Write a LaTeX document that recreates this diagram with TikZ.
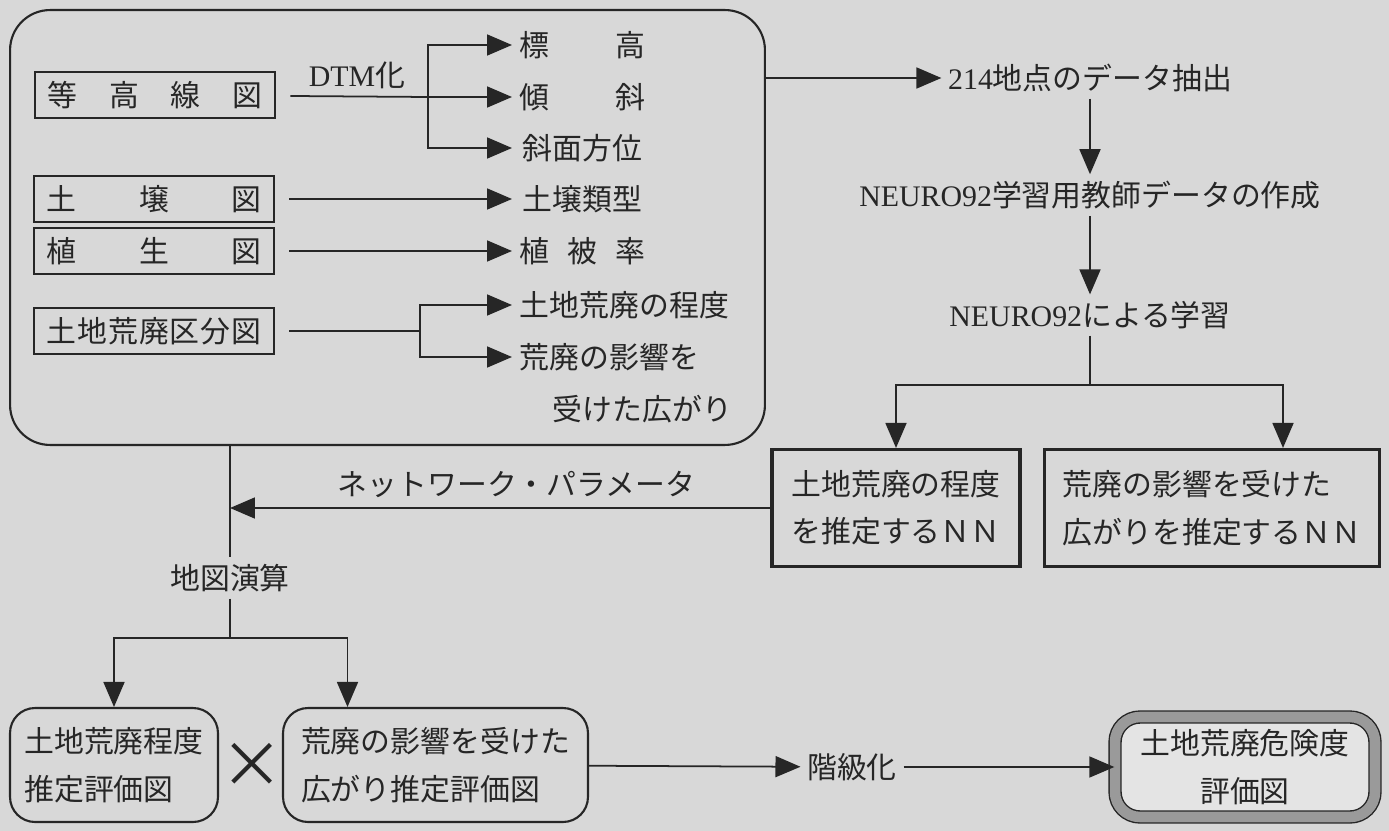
\documentclass[tikz,border=0pt]{standalone}
\usepackage{fontspec}
\setmainfont{Noto Sans CJK JP}
\newfontfamily\lat{Liberation Serif}
\usetikzlibrary{arrows.meta,positioning,calc}
\definecolor{paperGray}{HTML}{D8D8D8}
\definecolor{inkGray}{HTML}{262626}
\definecolor{bandGray}{HTML}{9A9A9A}
\definecolor{innerGray}{HTML}{E4E4E4}

\begin{document}
\begin{tikzpicture}[
      x=0.02cm, y=-0.02cm,
      color=inkGray, line width=1pt,
      font=\fontsize{17}{27}\selectfont,
      mapbox/.style={rectangle, draw, line width=1.6pt, inner xsep=0.25cm,
                     minimum height=0.92cm},
      item/.style={anchor=west, inner sep=4pt},
      nnbox/.style={rectangle, draw, line width=1.8pt, align=left, minimum height=2.34cm},
      evalbox/.style={rectangle, rounded corners=0.5cm, draw, line width=1.2pt,
                      align=left, minimum height=2.28cm},
      finalbox/.style={rectangle, rounded corners=0.5cm, draw, line width=0.8pt,
                       double=bandGray, double distance=6pt, fill=innerGray,
                       align=center, minimum width=5.2cm, minimum height=2.0cm},
      >={Triangle[length=0.5cm,width=0.42cm]}
    ]
    \fill[paperGray] (0,0) rectangle (1389,831);
    \useasboundingbox (0,0) rectangle (1389,831);

    \node[draw, rounded corners=0.8cm, line width=1.2pt, minimum width=15.1cm,
          minimum height=8.7cm] (mapsbox) at (387.5,227.5) {};

    \node[mapbox] (contour) at (155,95) {\makebox[4.3cm]{等\hfill 高\hfill 線\hfill 図}};
    \node[mapbox] (soil) at (154,199) {\makebox[4.3cm]{土\hfill 壌\hfill 図}};
    \node[mapbox] (veg) at (154,251) {\makebox[4.3cm]{植\hfill 生\hfill 図}};
    \node[mapbox] (landdeg) at (154,331) {\makebox[4.3cm]{土\hfill 地\hfill 荒\hfill 廃\hfill 区\hfill 分\hfill 図}};

    \node (dtmlabel) at (357,75) {{\lat DTM}化};
    \node[item] (elev) at (512,45) {\makebox[2.5cm]{標\hfill 高}};
    \node[item] (slope) at (512,97) {\makebox[2.5cm]{傾\hfill 斜}};
    \node[item] (aspect) at (512,148) {\makebox[2.5cm]{斜面方位}};
    \node[item] (soiltype) at (512,199) {\makebox[2.5cm]{土壌類型}};
    \node[item] (vegcov) at (512,251) {\makebox[2.5cm]{植\hfill 被\hfill 率}};
    \node[item] (degree) at (512,305) {土地荒廃の程度};
    \node[item, anchor=north west, align=left, font=\fontsize{17}{30}\selectfont]
         (spread) at (512,335) {荒廃の影響を\\\hspace*{1.1em}受けた広がり};

    \coordinate (dtm) at (428,97);
    \coordinate (split) at (420,331);
    \draw[shorten <=0.28cm] (contour) -- (dtm);
    \draw[->] (dtm) |- (elev);
    \draw[->] (dtm) -- (slope);
    \draw[->] (dtm) |- (aspect);
    \draw[->, shorten <=0.28cm] (soil) -- (soiltype);
    \draw[->, shorten <=0.28cm] (veg) -- (vegcov);
    \draw[shorten <=0.28cm] (landdeg) -- (split);
    \draw[->] (split) |- (degree);
    \draw[->] (split) |- ($(spread.north west)+(0,22)$);

    \node (extract) at (1090,78) {{\lat 214}地点のデータ抽出};
    \node (teach) at (1090,195) {{\lat NEURO92}学習用教師データの作成};
    \node (learn) at (1090,315) {{\lat NEURO92}による学習};
    \coordinate (fork) at (1090,385);

    \node[nnbox, minimum width=4.96cm] (nn1) at (896,508) {土地荒廃の程度\\を推定するＮＮ};
    \node[nnbox, minimum width=6.7cm] (nn2) at (1212,508) {荒廃の影響を受けた\\広がりを推定するＮＮ};

    \draw[->] (mapsbox.east |- extract) -- (extract);
    \draw[->] (extract) -- (teach);
    \draw[->] (teach) -- (learn);
    \draw (learn) -- (fork);
    \draw[->] (fork) -| (nn1);
    \draw[->] (fork) -| ($(nn2.north)+(71,0)$);

    \coordinate (merge) at (230,508);
    \draw[->] (nn1) -- node[above=2pt, pos=0.47] (netparam) {ネットワーク・パラメータ} (merge);

    \node (mapcalc) at (230,578) {地図演算};
    \coordinate (fork2) at (230,638);
    \draw (mapsbox.south -| merge) -- (mapcalc);
    \draw (mapcalc) -- (fork2);

    \node[evalbox, minimum width=4.16cm] (evalA) at (114,765) {土地荒廃程度\\推定評価図};
    \node[evalbox, minimum width=6.1cm] (evalB) at (435.5,765) {荒廃の影響を受けた\\広がり推定評価図};
    \node[font=\fontsize{36}{36}\selectfont] (cross) at (252,765) {×};
    \draw[->] (fork2) -| (evalA);
    \draw[->] (fork2) -| ($(evalB.north)+(-88,0)$);

    \node (rank) at (852,767) {階級化};
    \node[finalbox] (hazard) at (1245,767) {土地荒廃危険度\\評価図};
    \draw[->] (evalB) -- (rank);
    \draw[->] (rank) -- (hazard);
  \end{tikzpicture}
\end{document}
